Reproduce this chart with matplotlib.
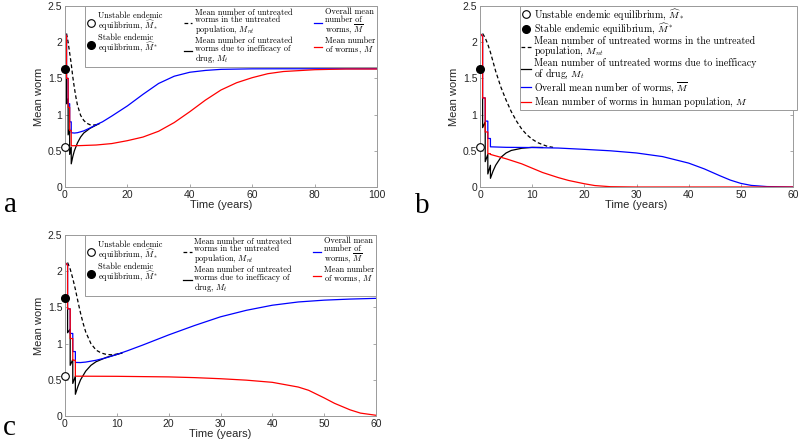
import numpy as np
import matplotlib
matplotlib.use('Agg')
import matplotlib.pyplot as plt

plt.rcParams['mathtext.fontset'] = 'cm'
plt.rcParams['font.family'] = ['Liberation Sans', 'DejaVu Sans']

## ---------------------------------------------------
## values (time in years, mean worm burden)

# equilibria, drawn at t = 0
M_UNSTABLE = 0.55
M_STABLE = 1.63

# panel a
A_RED_T = [0, 0.3, 0.5, 0.5, 1.0, 1.0, 1.5, 1.5, 2.0, 2.0, 5, 10, 15, 20, 25, 30, 35, 40,
           45, 50, 55, 60, 65, 70, 80, 90, 100]
A_RED = [2.12, 2.10, 2.08, 1.50, 1.50, 1.10, 1.10, 0.78, 0.78, 0.57, 0.572, 0.58, 0.60, 0.64,
         0.69, 0.77, 0.89, 1.04, 1.20, 1.34, 1.44, 1.51, 1.565, 1.595, 1.62, 1.63, 1.63]
A_BLUE_T = [0, 0.3, 0.5, 0.5, 1.0, 1.0, 1.5, 1.5, 2.0, 2.0, 3, 4, 6, 8, 10, 12, 15, 20, 25,
            30, 35, 40, 45, 50, 60, 70, 80, 100]
A_BLUE = [2.12, 2.10, 2.08, 1.50, 1.50, 1.15, 1.15, 0.90, 0.90, 0.75, 0.745, 0.75, 0.775,
          0.815, 0.86, 0.90, 0.98, 1.12, 1.28, 1.43, 1.53, 1.585, 1.61, 1.625, 1.632, 1.633,
          1.633, 1.633]
A_MT_T = [0.5, 0.5, 1.0, 1.0, 1.5, 1.5, 2.0, 2.0, 2.5, 3, 4, 5, 6, 8, 10, 11]
A_MT = [1.50, 1.15, 1.22, 0.72, 0.80, 0.45, 0.55, 0.32, 0.42, 0.50, 0.61, 0.69, 0.745, 0.81,
        0.855, 0.875]
A_MNT_T = [0.5, 1, 1.5, 2, 2.5, 3, 3.5, 4, 5, 6, 7, 8, 9, 10, 11]
A_MNT = [2.12, 2.0, 1.85, 1.70, 1.52, 1.37, 1.24, 1.13, 0.99, 0.92, 0.88, 0.86, 0.855, 0.86,
         0.875]

# panel b
B_RED_T = [0, 0.3, 0.5, 0.5, 1.0, 1.0, 1.5, 1.5, 2.0, 2.0, 5, 8, 10, 12, 15, 17, 20, 22, 25,
           30, 60]
B_RED = [2.12, 2.10, 2.08, 1.23, 1.23, 0.76, 0.76, 0.46, 0.46, 0.45, 0.39, 0.32, 0.26, 0.20,
         0.13, 0.09, 0.045, 0.02, 0.004, 0.0, 0.0]
B_BLUE_T = [0, 0.3, 0.5, 0.5, 1.0, 1.0, 1.5, 1.5, 2.0, 2.0, 5, 10, 15, 20, 25, 30, 35, 40,
            43, 46, 48, 50, 52, 55, 60]
B_BLUE = [2.12, 2.10, 2.08, 1.23, 1.23, 0.91, 0.91, 0.67, 0.67, 0.555, 0.548, 0.545, 0.538,
          0.52, 0.50, 0.47, 0.42, 0.33, 0.25, 0.155, 0.095, 0.05, 0.022, 0.006, 0.0]
B_MT_T = [0.5, 0.5, 1.0, 1.0, 1.5, 1.5, 2.0, 2.0, 2.5, 3, 4, 5, 6, 8, 10, 12]
B_MT = [1.23, 0.82, 0.90, 0.35, 0.45, 0.18, 0.30, 0.12, 0.22, 0.30, 0.41, 0.47, 0.505, 0.535,
        0.548, 0.546]
B_MNT_T = [0.5, 1, 1.5, 2, 3, 4, 5, 6, 7, 8, 9, 10, 11, 12, 13, 14]
B_MNT = [2.12, 2.06, 1.97, 1.86, 1.60, 1.38, 1.20, 1.04, 0.91, 0.80, 0.72, 0.66, 0.615, 0.585,
         0.56, 0.548]

# panel c
C_RED_T = [0, 0.3, 0.5, 0.5, 1.0, 1.0, 1.5, 1.5, 2.0, 2.0, 10, 20, 25, 30, 35, 40, 45, 47,
           50, 52, 55, 57, 60]
C_RED = [2.12, 2.10, 2.08, 1.48, 1.48, 1.07, 1.07, 0.77, 0.77, 0.55, 0.548, 0.54, 0.53, 0.515,
         0.495, 0.465, 0.40, 0.355, 0.25, 0.175, 0.085, 0.04, 0.01]
C_BLUE_T = [0, 0.3, 0.5, 0.5, 1.0, 1.0, 1.5, 1.5, 2.0, 2.0, 3, 4, 6, 8, 10, 12, 15, 20, 25,
            30, 35, 40, 45, 50, 55, 60]
C_BLUE = [2.12, 2.10, 2.08, 1.48, 1.48, 1.14, 1.14, 0.89, 0.89, 0.74, 0.738, 0.745, 0.77,
          0.805, 0.85, 0.90, 0.98, 1.12, 1.25, 1.37, 1.46, 1.53, 1.575, 1.60, 1.615, 1.625]
C_MT_T = [0.5, 0.5, 1.0, 1.0, 1.5, 1.5, 2.0, 2.0, 2.5, 3, 4, 5, 6, 8, 10, 11]
C_MT = [1.48, 1.15, 1.20, 0.70, 0.78, 0.45, 0.55, 0.30, 0.41, 0.50, 0.62, 0.70, 0.75, 0.81,
        0.85, 0.87]
C_MNT_T = [0.5, 1, 1.5, 2, 2.5, 3, 3.5, 4, 5, 6, 7, 8, 9, 10, 11]
C_MNT = [2.12, 2.03, 1.90, 1.75, 1.58, 1.42, 1.28, 1.16, 1.00, 0.91, 0.87, 0.85, 0.845, 0.855,
         0.87]

Y_TICKS = [0, 0.5, 1, 1.5, 2, 2.5]
Y_TICKLABELS = ['0', '0.5', '1', '1.5', '2', '2.5']

LABELS_WIDE = [r'Unstable endemic' + '\n' + r'equilibrium, $\widehat{M}_*$',
               r'Stable endemic' + '\n' + r'equilibrium, $\widehat{M}^*$',
               'Mean number of untreated\nworms in the untreated\npopulation, $M_{nt}$',
               'Mean number of untreated\nworms due to inefficacy of\ndrug, $M_t$',
               'Overall mean\nnumber of\nworms, $\\overline{M}$',
               'Mean number\nof worms, $M$']
LABELS_TALL = [r'Unstable endemic equilibrium, $\widehat{M}_*$',
               r'Stable endemic equilibrium, $\widehat{M}^*$',
               'Mean number of untreated worms in the untreated\npopulation, $M_{nt}$',
               'Mean number of untreated worms due to inefficacy\nof drug, $M_t$',
               'Overall mean number of worms, $\\overline{M}$',
               'Mean number of worms in human population, $M$']

AXCOLOR = '#9a9a9a'
LW = 0.9


def draw_panel(ax, red, blue, mt, mnt, xmax, xstep):
    """Draw the four curves and the two equilibria on ax, MATLAB-like styling."""
    h_un, = ax.plot([0], [M_UNSTABLE], 'o', ms=5.5, mfc='white', mec='k', mew=0.8,
                    clip_on=False, zorder=6)
    h_st, = ax.plot([0], [M_STABLE], 'o', ms=5.5, mfc='k', mec='k', clip_on=False, zorder=6)
    h_nt, = ax.plot(mnt[0], mnt[1], color='k', ls=(0, (3, 2)), lw=LW)
    h_t, = ax.plot(mt[0], mt[1], color='k', lw=LW)
    h_b, = ax.plot(blue[0], blue[1], color='#0000ff', lw=LW)
    h_r, = ax.plot(red[0], red[1], color='#ff0000', lw=LW)

    ax.set_xlim(0, xmax)
    ax.set_ylim(0, 2.5)
    ax.set_xticks(np.arange(0, xmax + 1, xstep))
    ax.set_yticks(Y_TICKS)
    ax.set_yticklabels(Y_TICKLABELS)
    ax.tick_params(direction='in', length=2.5, width=0.6, colors=AXCOLOR,
                   labelcolor='#262626', labelsize=7.5, top=True, right=True, pad=2)
    for s in ax.spines.values():
        s.set_color(AXCOLOR)
        s.set_linewidth(0.7)
    ax.set_xlabel('Time (years)', fontsize=8, color='#262626', labelpad=0)
    ax.set_ylabel('Mean worm', fontsize=8, color='#262626', labelpad=3)
    return [h_un, h_st, h_nt, h_t, h_b, h_r]


def add_legend(ax, handles, labels, anchor, ncol, size, lsp, linesp, pad=0.25):
    leg = ax.legend(handles, labels, ncol=ncol, loc='upper left', bbox_to_anchor=anchor,
                    mode='expand', borderaxespad=0, prop={'family': 'cmr10', 'size': size},
                    handlelength=1.0, handletextpad=0.3, labelspacing=lsp,
                    columnspacing=0.8, borderpad=pad, fancybox=False, framealpha=1,
                    edgecolor=AXCOLOR)
    leg.get_frame().set_linewidth(0.7)
    for t in leg.get_texts():
        t.set_linespacing(linesp)
    return leg


if __name__ == "__main__":
    fig = plt.figure(figsize=(8, 4.43), dpi=100)
    W, H = 800.0, 443.0

    ax_a = fig.add_axes([65 / W, 1 - 187 / H, 312 / W, 181 / H])
    ax_b = fig.add_axes([480 / W, 1 - 187 / H, 313 / W, 181 / H])
    ax_c = fig.add_axes([65 / W, 1 - 416 / H, 311 / W, 181 / H])

    ha = draw_panel(ax_a, (A_RED_T, A_RED), (A_BLUE_T, A_BLUE), (A_MT_T, A_MT),
                    (A_MNT_T, A_MNT), 100, 20)
    hb = draw_panel(ax_b, (B_RED_T, B_RED), (B_BLUE_T, B_BLUE), (B_MT_T, B_MT),
                    (B_MNT_T, B_MNT), 60, 10)
    hc = draw_panel(ax_c, (C_RED_T, C_RED), (C_BLUE_T, C_BLUE), (C_MT_T, C_MT),
                    (C_MNT_T, C_MNT), 60, 10)

    add_legend(ax_a, ha, LABELS_WIDE, (0.064, 0.685, 0.936, 0.315), 3, 6, 0.05, 0.88)
    add_legend(ax_c, hc, LABELS_WIDE, (0.064, 0.685, 0.936, 0.315), 3, 6, 0.05, 0.88)
    add_legend(ax_b, hb, LABELS_TALL, (0.128, 0.475, 0.885, 0.525), 1, 7.1, 0.0, 0.85,
               pad=0.12)

    # panel letters
    for txt, x, y in [('a', 4, 212), ('b', 415, 213), ('c', 3, 435)]:
        fig.text(x / W, 1 - y / H, txt, family='Liberation Serif', size=21, va='baseline')

    fig.savefig('out.png', dpi=100)
